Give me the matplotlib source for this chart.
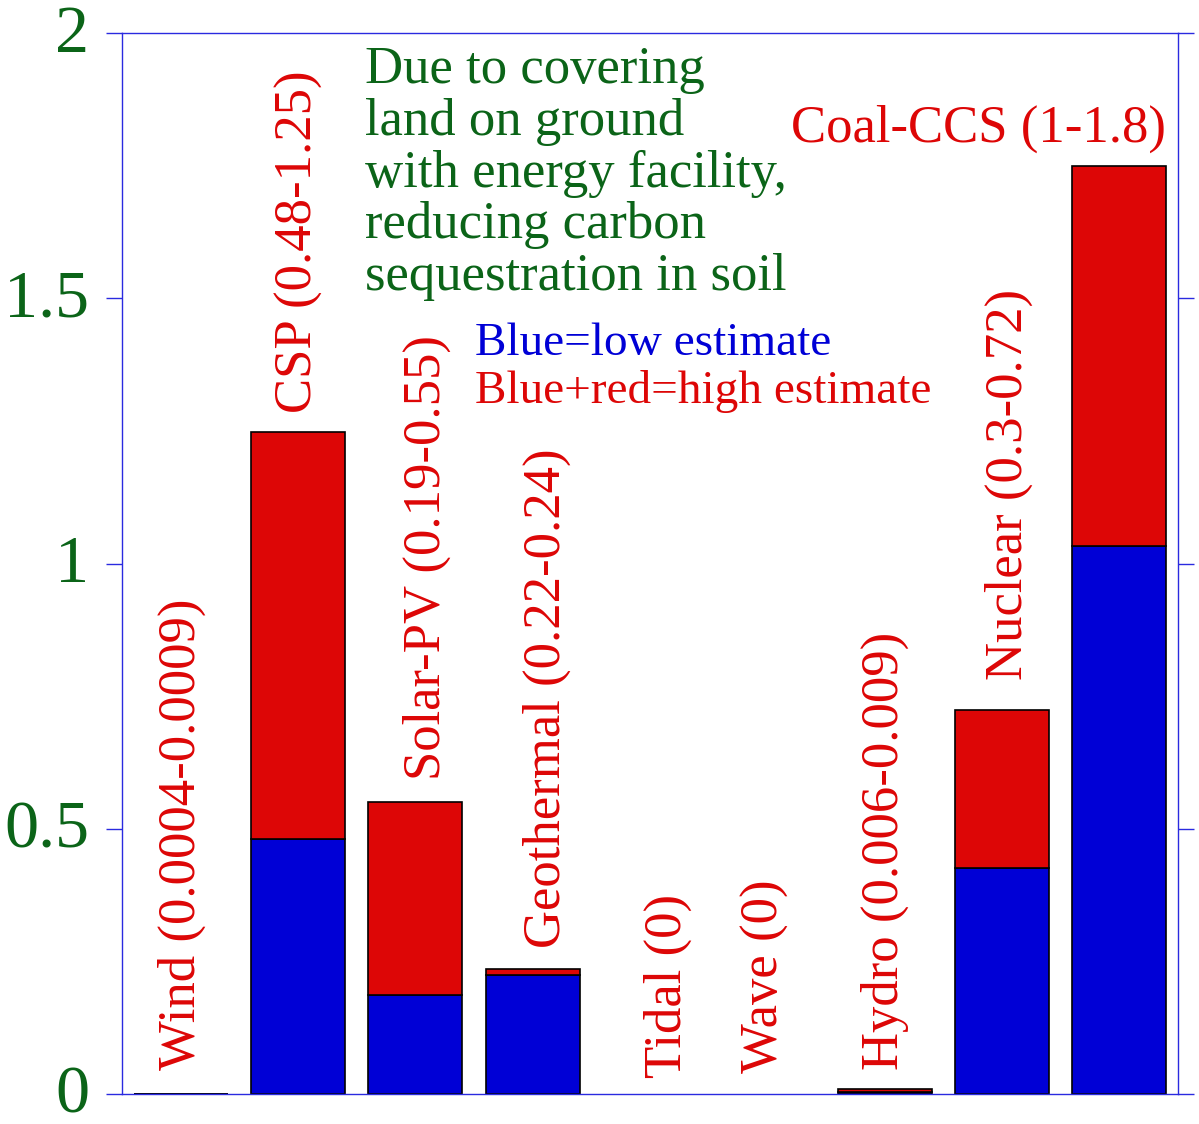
import matplotlib
matplotlib.use('Agg')
import matplotlib.pyplot as plt
import matplotlib.transforms as mtransforms
import numpy as np

plt.rcParams['font.family'] = ['Liberation Serif', 'DejaVu Serif']

# 数据
categories = ['Wind', 'CSP', 'Solar-PV', 'Geothermal', 'Tidal', 'Wave', 'Hydro', 'Nuclear', 'Coal-CCS']
ranges = ['0.0004-0.0009', '0.48-1.25', '0.19-0.55', '0.22-0.24', '0', '0', '0.006-0.009', '0.3-0.72', '1-1.8']
low = np.array([0.0004, 0.48, 0.187, 0.224, 0, 0, 0.004, 0.426, 1.033])
high = np.array([0.0009, 1.248, 0.55, 0.236, 0, 0, 0.009, 0.724, 1.749])
yticks = [0, 0.5, 1, 1.5, 2]
ytick_labels = ['0', '0.5', '1', '1.5', '2']

# 标签位置微调 (基线相对柱中心的偏移, 标签起点相对柱顶的偏移)
label_dx = [0.12, 0.12, 0.21, 0.23, 0.26, 0.09, 0.11, 0.17]
label_dy = [0.044, 0.036, 0.042, 0.039, 0.03, 0.04, 0.036, 0.056]

blue = '#0000d6'
red = '#dd0606'
green = '#0b6418'
axis_blue = '#2a2ae0'

fig = plt.figure(figsize=(11.99, 11.24), dpi=100)
ax = fig.add_axes([122 / 1199, 1 - 1094 / 1124, (1178 - 122) / 1199, (1094 - 33) / 1124])

x = np.arange(len(categories))
lw = np.where(high > 0, 1.2, 0)
ax.bar(x, low, width=0.8, color=blue, edgecolor='black', linewidth=lw)
ax.bar(x, high - low, bottom=low, width=0.8, color=red, edgecolor='black', linewidth=lw)

# 柱子标签
for i, (c, r) in enumerate(zip(categories, ranges)):
    txt = f'{c} ({r})'
    if c == 'Coal-CCS':
        ax.text(i + 0.4, 1.795, txt, ha='right', va='baseline', color=red, fontsize=38)
    else:
        ax.text(i + label_dx[i], high[i] + label_dy[i], txt, rotation=90,
                rotation_mode='anchor', ha='left', va='baseline',
                color=red, fontsize=38)

ax.text(1.572, 1.975, 'Due to covering\nland on ground\nwith energy facility,\nreducing carbon\nsequestration in soil',
        ha='left', va='top', color=green, fontsize=38, linespacing=1.1)
ax.text(2.51, 1.455, 'Blue=low estimate', ha='left', va='top', color=blue, fontsize=34)
ax.text(2.51, 1.365, 'Blue+red=high estimate', ha='left', va='top', color=red, fontsize=34)

ax.set_xlim(-0.5, len(categories) - 0.5)
ax.set_ylim(0, 2)
ax.set_xticks([])
ax.set_yticks(yticks)
ax.set_yticklabels(ytick_labels)
ax.tick_params(axis='y', which='both', direction='out', length=11.5, width=1,
               color=axis_blue, labelcolor=green, labelsize=49, pad=12, right=True)
shift = mtransforms.ScaledTranslation(0, 0.05, fig.dpi_scale_trans)
for lab in ax.get_yticklabels():
    lab.set_transform(lab.get_transform() + shift)
for s in ax.spines.values():
    s.set_color(axis_blue)
    s.set_linewidth(1)

fig.savefig('out.png', dpi=100)
